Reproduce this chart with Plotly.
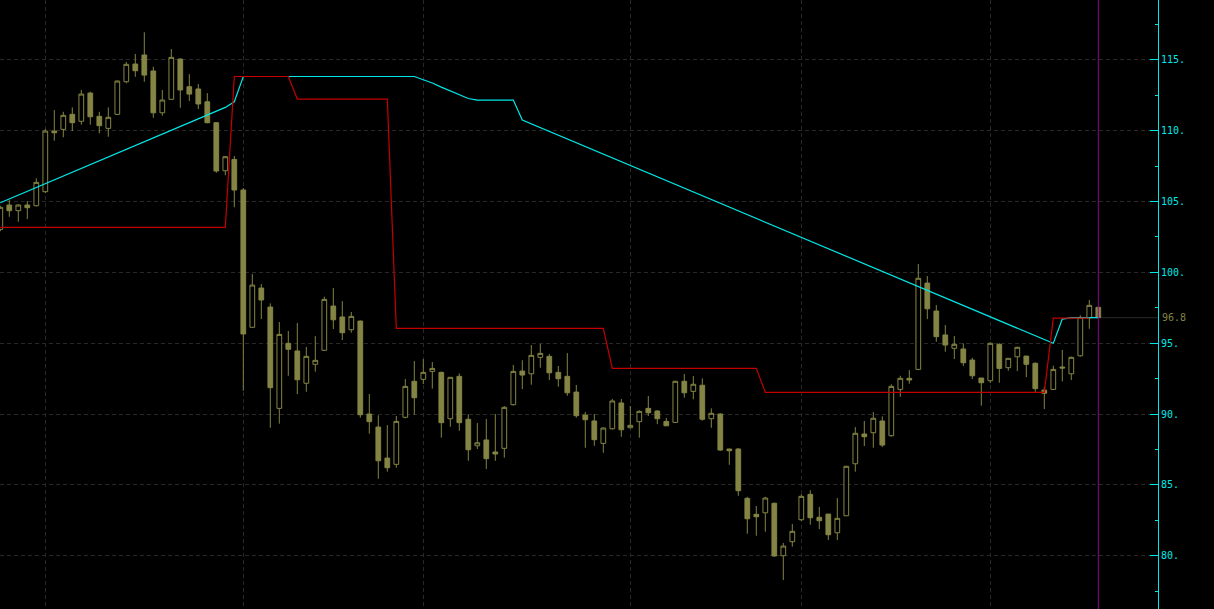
import plotly.graph_objects as go

# ---------------- data ----------------
opens = [103.03, 104.75, 104.35, 104.75, 104.70, 105.69, 109.97, 110.09, 111.15, 110.66,
         112.65, 111.01, 110.16, 111.15, 113.45, 114.70, 115.34, 114.21, 111.26, 112.21,
         115.05, 113.10, 112.94, 112.04, 110.56, 107.17, 107.97, 105.81, 96.12, 98.89,
         97.55, 90.40, 94.99, 94.45, 92.17, 93.51, 94.50, 97.62, 96.85, 95.95,
         96.56, 90.00, 89.08, 86.89, 86.45, 89.77, 92.31, 92.45, 93.01, 92.94,
         89.67, 92.66, 89.63, 87.76, 88.17, 87.32, 87.58, 90.66, 93.03, 92.84,
         94.00, 94.07, 92.94, 92.66, 91.55, 89.93, 89.51, 87.93, 88.96, 90.78,
         89.03, 89.46, 90.40, 90.21, 89.48, 89.41, 92.31, 91.60, 92.03, 89.67,
         90.00, 87.53, 87.53, 84.05, 82.92, 83.03, 83.70, 80.00, 80.99, 82.54,
         84.33, 82.71, 82.94, 81.62, 82.82, 86.49, 88.59, 88.68, 89.51, 88.47,
         91.74, 92.52, 93.15, 99.24, 97.27, 95.58, 94.64, 94.59, 93.81, 92.54,
         92.35, 94.92, 93.27, 94.04, 94.09, 93.58, 91.69, 91.74, 93.32, 92.84,
         94.11, 96.78, 97.53]
highs = [104.70, 105.10, 104.80, 105.03, 106.63, 110.11, 111.45, 111.33, 111.64, 112.87,
         112.75, 111.33, 111.64, 113.55, 114.84, 115.41, 116.94, 114.51, 112.87, 115.76,
         115.10, 113.99, 113.29, 112.65, 110.60, 108.21, 108.21, 105.95, 99.88, 99.17,
         97.81, 96.49, 95.86, 96.42, 94.73, 95.50, 98.28, 98.89, 97.97, 97.20,
         96.60, 91.41, 89.91, 89.22, 89.86, 92.47, 93.74, 93.88, 93.67, 93.00,
         92.60, 92.87, 89.98, 89.36, 89.65, 90.00, 90.56, 93.46, 93.80, 94.87,
         94.94, 94.23, 93.39, 94.30, 92.05, 90.14, 90.00, 89.06, 91.06, 91.06,
         90.56, 90.26, 91.27, 90.28, 89.72, 92.35, 92.82, 92.68, 92.52, 90.40,
         90.05, 87.55, 87.60, 84.16, 83.51, 84.16, 83.75, 80.90, 82.24, 84.33,
         84.62, 83.44, 82.95, 84.07, 86.35, 89.08, 89.51, 90.14, 89.84, 92.10,
         92.70, 93.10, 100.59, 99.74, 97.69, 96.28, 95.50, 94.99, 93.97, 92.55,
         95.06, 94.99, 93.95, 94.75, 94.10, 93.65, 91.93, 93.41, 94.52, 94.05,
         96.97, 98.05, 97.55]
lows = [102.90, 103.92, 103.57, 103.76, 104.65, 105.60, 109.29, 109.53, 109.97, 110.42,
        110.42, 109.81, 109.57, 111.10, 113.34, 113.80, 113.45, 110.91, 111.05, 112.20,
        111.62, 112.09, 111.52, 110.52, 107.03, 106.85, 104.59, 91.64, 96.10, 96.70,
        89.03, 89.32, 92.70, 91.41, 91.57, 92.99, 94.45, 96.00, 95.22, 95.74,
        89.74, 88.61, 85.43, 85.93, 86.21, 89.70, 89.95, 92.12, 91.79, 88.33,
        89.10, 88.82, 86.70, 87.53, 86.12, 86.70, 86.92, 90.60, 91.76, 92.07,
        93.27, 92.40, 91.93, 91.29, 89.74, 87.62, 87.76, 87.27, 88.90, 88.40,
        89.00, 88.33, 89.86, 89.29, 89.15, 89.37, 91.15, 91.04, 89.53, 89.03,
        87.39, 86.42, 84.23, 81.55, 81.41, 81.69, 79.93, 78.28, 80.64, 82.45,
        82.19, 81.88, 81.11, 81.11, 82.80, 85.93, 87.74, 87.62, 87.67, 88.40,
        91.22, 92.14, 93.10, 96.70, 95.10, 94.40, 93.88, 93.39, 92.47, 90.59,
        92.19, 92.21, 93.06, 93.03, 92.61, 91.57, 90.35, 91.70, 92.31, 92.40,
        94.05, 96.02, 96.80]
closes = [104.59, 104.35, 104.75, 104.56, 106.35, 109.97, 109.85, 111.08, 110.56, 112.58,
          110.98, 110.35, 110.94, 113.50, 114.68, 114.23, 113.92, 111.26, 112.16, 115.17,
          112.87, 112.58, 111.88, 110.56, 107.15, 108.16, 105.81, 95.65, 99.10, 98.05,
          91.86, 95.62, 94.57, 92.42, 94.07, 93.79, 98.09, 96.65, 95.74, 96.89,
          89.95, 89.46, 86.70, 86.21, 89.48, 91.95, 91.15, 92.94, 93.22, 89.39,
          92.59, 89.39, 87.48, 87.97, 86.85, 87.18, 90.47, 93.01, 92.75, 94.14,
          94.28, 92.91, 92.49, 91.50, 89.88, 89.60, 88.19, 89.01, 90.92, 88.89,
          89.20, 90.19, 90.09, 89.67, 89.17, 92.31, 91.50, 92.10, 89.63, 90.05,
          87.46, 87.41, 84.59, 82.61, 82.75, 84.07, 79.98, 80.68, 81.72, 84.19,
          82.68, 82.47, 81.48, 82.64, 86.31, 88.64, 88.40, 89.70, 87.81, 91.95,
          92.52, 92.40, 99.58, 97.43, 95.46, 94.87, 94.92, 93.62, 92.70, 92.21,
          94.99, 93.22, 93.93, 94.71, 93.51, 91.79, 91.46, 93.15, 93.25, 94.00,
          96.82, 97.67, 96.80]
bars = list(range(len(opens)))

# cyan trailing line (vertices, bar index / price)
cyan_x = [0, 25, 26, 27, 46, 47, 48, 49, 50, 51, 52, 53, 57, 58, 117, 118, 119, 122]
cyan_y = [104.91, 111.64, 112.04, 113.82, 113.82, 113.60, 113.36, 113.07, 112.79, 112.51,
          112.27, 112.16, 112.16, 110.75, 94.99, 96.70, 96.80, 96.80]

# red stop line (vertices)
red_x = [0, 25, 26, 32, 33, 43, 44, 67, 68, 84, 85, 116, 117, 121]
red_y = [103.18, 103.18, 113.82, 113.82, 112.23, 112.23, 96.05, 96.05, 93.22, 93.22,
         91.53, 91.53, 96.77, 96.77]

last_price = 96.8
last_label = "96.8"
cursor_bar = 122
month_bars = [5, 27, 47, 70, 89, 110]
y_ticks = [80, 85, 90, 95, 100, 105, 110, 115]
y_ticktext = ["80.", "85.", "90.", "95.", "100.", "105.", "110.", "115."]
y_minor = [77.5, 82.5, 87.5, 92.5, 97.5, 102.5, 107.5, 112.5, 117.5]

# ---------------- style ----------------
OLIVE = "#848444"
CYAN = "#00e8e8"
RED = "#c40000"
PURPLE = "#960096"
GRID = "#282828"
FONT = "DejaVu Sans Mono"

X_RANGE = [-0.033, 128.633]
Y_RANGE = [76.24, 119.22]

fig = go.Figure()

fig.add_trace(go.Candlestick(
    x=bars, open=opens, high=highs, low=lows, close=closes,
    increasing=dict(line=dict(color=OLIVE, width=1), fillcolor="#000000"),
    decreasing=dict(line=dict(color=OLIVE, width=1), fillcolor=OLIVE),
    whiskerwidth=0, hoverinfo="skip", showlegend=False,
))

fig.add_trace(go.Scatter(x=cyan_x, y=cyan_y, mode="lines",
                         line=dict(color=CYAN, width=1.2), hoverinfo="skip", showlegend=False))
fig.add_trace(go.Scatter(x=red_x, y=red_y, mode="lines",
                         line=dict(color=RED, width=1.2), hoverinfo="skip", showlegend=False))

# last price line
fig.add_shape(type="line", xref="x", yref="y", x0=cursor_bar + 0.2, x1=X_RANGE[1],
              y0=last_price, y1=last_price, line=dict(color="#2a2a2a", width=1), layer="below")
# cursor vertical line
fig.add_shape(type="line", xref="x", yref="paper", x0=cursor_bar, x1=cursor_bar,
              y0=0, y1=1, line=dict(color=PURPLE, width=1), layer="above")

fig.add_annotation(xref="paper", yref="y", x=1, y=last_price, text=last_label,
                   showarrow=False, xanchor="left", yanchor="middle", xshift=2,
                   font=dict(family=FONT, size=10, color=OLIVE))

fig.update_layout(
    width=1214, height=609, autosize=False,
    margin=dict(l=0, r=56, t=0, b=0, pad=0),
    paper_bgcolor="#000000", plot_bgcolor="#000000",
    showlegend=False,
    boxgap=0.25,
    xaxis=dict(range=X_RANGE, rangeslider=dict(visible=False), showticklabels=False,
               tickmode="array", tickvals=month_bars, ticks="",
               showgrid=True, gridcolor=GRID, gridwidth=1, griddash="4px,3px",
               zeroline=False, showline=False, fixedrange=True),
    yaxis=dict(range=Y_RANGE, side="right", tickmode="array", tickvals=y_ticks,
               ticktext=y_ticktext, ticks="inside", ticklen=8, tickwidth=1, tickcolor=CYAN,
               showline=True, linecolor=CYAN, linewidth=1,
               showgrid=True, gridcolor=GRID, gridwidth=1, griddash="4px,3px",
               zeroline=False,
               tickfont=dict(family=FONT, size=10, color=CYAN),
               minor=dict(tickmode="array", tickvals=y_minor, ticks="inside", ticklen=3,
                          tickwidth=1, tickcolor=CYAN, showgrid=False),
               fixedrange=True),
)

fig.write_html("out.html", config={"displayModeBar": False, "staticPlot": True},
               post_script="document.body.style.margin='0';document.body.style.overflow='hidden';")
